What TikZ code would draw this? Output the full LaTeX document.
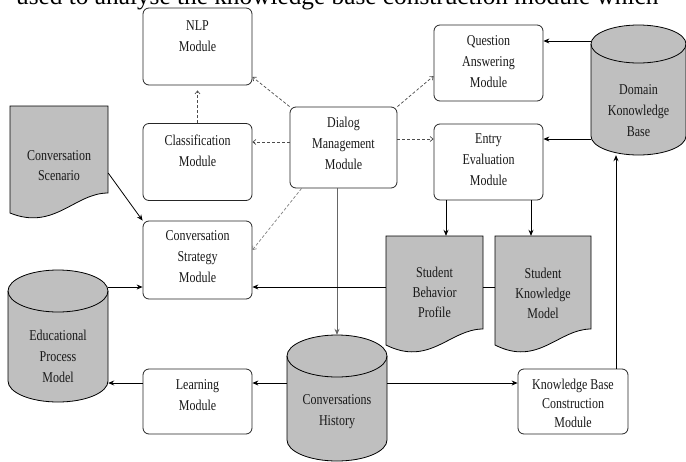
\documentclass[tikz,border=0pt]{standalone}
\usepackage{fontspec}
\setmainfont{Liberation Serif}
\newfontfamily\boxfont{Liberation Serif}[FakeStretch=0.8]
\usetikzlibrary{arrows.meta,calc}
\tikzset{
  modbox/.style={draw=black!85, line width=0.8pt, rounded corners=6pt, fill=white, inner sep=0pt, minimum width=109pt, minimum height=77pt},
  lbl/.style={font=\boxfont\fontsize{15}{21}\selectfont, align=center, inner sep=0pt, text=black!90},
  dlbl/.style={font=\boxfont\fontsize{15}{20}\selectfont, align=center, inner sep=0pt, text=black!90},
  shade/.style={fill=black!25, draw=black, line width=0.8pt},
  region/.style={inner sep=0pt, draw=none},
  arr/.style={-{Stealth[length=6pt,width=5pt]}, line width=0.8pt},
  darr/.style={-{Straight Barb[length=3pt,width=5pt]}, dash pattern=on 3pt off 2pt, line width=0.7pt, black!70},
  plainline/.style={line width=0.8pt},
}
\newcommand\cylshape[5]{%
  \pgfmathsetlengthmacro\cylrx{(#3-#1)/2*1pt}%
  \pgfmathsetlengthmacro\cylry{#5*1pt}%
  \filldraw[shade] (#1,{#2+#5}) -- (#1,{#4-#5}) arc[start angle=180,end angle=360,x radius=\cylrx,y radius=\cylry] -- (#3,{#2+#5}) arc[start angle=0,end angle=180,x radius=\cylrx,y radius=\cylry] -- cycle;
  \draw[line width=0.8pt] (#1,{#2+#5}) arc[start angle=180,end angle=360,x radius=\cylrx,y radius=\cylry];
}
\newcommand\docshape[5]{%
  \filldraw[shade] (#1,#2) -- (#3,#2) -- (#3,#4) .. controls ({#3-0.34*(#3-#1)},#4) and ({#1+0.45*(#3-#1)},{#4+38}) .. (#1,#5) -- cycle;
}
\begin{document}
\begin{tikzpicture}[x=1pt,y=-1pt]
\useasboundingbox (0,0) rectangle (686,461);
\fill[white] (0,0) rectangle (686,461);

% partially visible caption line
\node[anchor=base west, inner sep=0pt, font=\fontsize{25.3}{30}\selectfont] (cap) at (16,4.5) {used to analyse the knowledge base construction module which};

% module boxes
\node[modbox] (nlp) at (197.5,46.5) {};
\node[lbl] (nlpt) at (197.5,36) {NLP\\Module};
\node[modbox] (cls) at (197.5,162) {};
\node[lbl] (clst) at (197.5,151) {Classification\\Module};
\node[modbox, minimum height=78pt] (css) at (197.5,260) {};
\node[lbl] (csst) at (197.5,256.5) {Conversation\\Strategy\\Module};
\node[modbox, minimum width=107pt, minimum height=81pt] (dm) at (343.5,147.5) {};
\node[lbl] (dmt) at (343.5,143.5) {Dialog\\Management\\Module};
\node[modbox, minimum height=76pt] (qa) at (488.5,63) {};
\node[lbl] (qat) at (488.5,61.5) {Question\\Answering\\Module};
\node[modbox, minimum height=76pt] (ee) at (488.5,162) {};
\node[lbl] (eet) at (488.5,159.5) {Entry\\Evaluation\\Module};
\node[modbox, minimum height=65pt] (lm) at (197.5,401.5) {};
\node[lbl] (lmt) at (197.5,395.5) {Learning\\Module};
\node[modbox, minimum width=110pt, minimum height=65pt] (kbc) at (573,401.5) {};
\node[dlbl, font=\boxfont\fontsize{15}{19}\selectfont] (kbct) at (573,403) {Knowledge Base\\Construction\\Module};

% documents
\docshape{10}{106}{108}{193}{213}
\node[region, minimum width=98pt, minimum height=107pt] (csc) at (59,159.5) {};
\node[dlbl] (csct) at (59,166) {Conversation\\Scenario};
\docshape{386}{236}{483}{329}{345}
\node[region, minimum width=97pt, minimum height=109pt] (sbp) at (434.5,290.5) {};
\node[dlbl] (sbpt) at (434.5,292) {Student\\Behavior\\Profile};
\docshape{495}{236}{591}{329}{345}
\node[region, minimum width=96pt, minimum height=109pt] (skm) at (543,290.5) {};
\node[dlbl] (skmt) at (543,293) {Student\\Knowledge\\Model};

% cylinders
\cylshape{591}{25}{686}{155}{19}
\node[region, minimum width=95pt, minimum height=130pt] (dkb) at (638.5,90) {};
\node[lbl] (dkbt) at (638.5,111) {Domain\\Konowledge\\Base};
\cylshape{8}{270}{108}{402}{21}
\node[region, minimum width=100pt, minimum height=132pt] (edu) at (58,336) {};
\node[lbl] (edut) at (58,356) {Educational\\Process\\Model};
\cylshape{287}{335}{387}{461}{21}
\node[region, minimum width=100pt, minimum height=126pt] (ch) at (337,398) {};
\node[lbl] (cht) at (337,411.5) {Conversations\\History};

% helper coordinates
\coordinate (dmW) at ($(dm.west)+(0,-5.5)$);
\coordinate (dmE) at ($(dm.east)+(0,-8.5)$);
\coordinate (qaR) at ($(qa.east)+(0,-22)$);
\coordinate (eeR) at ($(ee.east)+(0,-23)$);
\coordinate (eeA) at ($(ee.south)+(-42.5,0)$);
\coordinate (eeB) at ($(ee.south)+(42.5,0)$);
\coordinate (cssR) at ($(css.east)+(0,27)$);
\coordinate (cssL) at ($(css.west)+(0,27)$);
\coordinate (lmIn) at ($(lm.east)+(0,-18.5)$);
\coordinate (lmOut) at ($(lm.west)+(0,-18.5)$);
\coordinate (kbcIn) at ($(kbc.west)+(0,-18.5)$);
\coordinate (kbcU) at ($(kbc.north)+(43,0)$);

% dashed connectors from dialog management
\draw[darr, shorten >=5pt] (cls.north) -- (nlp.south);
\draw[darr] (dm.north west) -- (nlp.-29);
\draw[darr] (dmW) -- (dmW -| cls.east);
\draw[darr] (dm.north east) -- ($(qa.west)+(0,13)$);
\draw[darr] (dmE) -- (dmE -| ee.west);
\draw[darr, black!50] ($(dm.south west)+(12,0)$) -- ($(css.east)+(0,-10)$);

% solid connectors
\draw[arr] ($(csc.east)+(0,13.5)$) -- (css.north west);
\draw[arr, black!60] (ch.north |- dm.south) -- (ch.north);
\draw[arr] (dkb.west |- qaR) -- (qaR);
\draw[arr] (dkb.west |- eeR) -- (eeR);
\draw[arr] (eeA) -- (eeA |- sbp.north);
\draw[arr] (eeB) -- (eeB |- skm.north);
\draw[plainline] (skm.west |- cssR) -- (sbp.east |- cssR);
\draw[arr] (sbp.west |- cssR) -- (cssR);
\draw[arr] (edu.east |- cssL) -- (cssL);
\draw[arr] (ch.west |- lmIn) -- (lmIn);
\draw[arr] (lmOut) -- (lmOut -| edu.east);
\draw[arr] (ch.east |- kbcIn) -- (kbcIn);
\draw[arr] (kbcU) -- (kbcU |- dkb.south);
\end{tikzpicture}
\end{document}
